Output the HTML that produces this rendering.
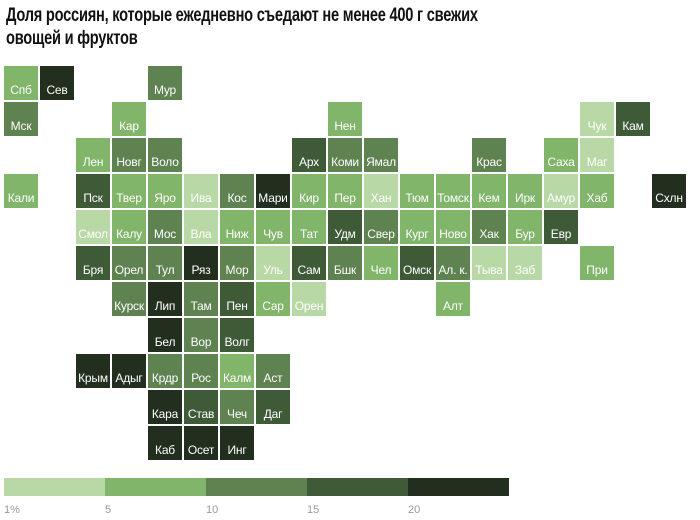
<!DOCTYPE html>
<html><head><meta charset="utf-8"><style>
body{margin:0;width:700px;height:520px;background:#fff;position:relative;overflow:hidden;font-family:"Liberation Sans","Noto Sans CJK SC",sans-serif}
h1{position:absolute;left:6px;top:4px;margin:0;font-size:19px;line-height:23px;font-weight:bold;color:#111;width:640px;letter-spacing:-0.3px;transform:scaleX(0.77);transform-origin:0 0}
.t{position:absolute;width:34px;height:34px;color:#fff;font-size:12px;text-align:center;line-height:12px;box-sizing:border-box;padding-top:18px;white-space:nowrap;letter-spacing:-0.2px}
.a{background:#b8d9a6}.b{background:#80b56a}.c{background:#5e8250}.d{background:#3e5a37}.e{background:#222e1e}
.l{position:absolute;top:478px;height:18px;width:101px}
.n{position:absolute;top:504px;font-size:11px;color:#999}
</style></head><body>
<h1>Доля россиян, которые ежедневно съедают не менее 400 г свежих овощей и фруктов</h1>
<div class="t b" style="left:4px;top:66px">Спб</div>
<div class="t e" style="left:40px;top:66px">Сев</div>
<div class="t c" style="left:148px;top:66px">Мур</div>

<div class="t c" style="left:4px;top:102px">Мск</div>
<div class="t b" style="left:112px;top:102px">Кар</div>
<div class="t b" style="left:328px;top:102px">Нен</div>
<div class="t a" style="left:580px;top:102px">Чук</div>
<div class="t d" style="left:616px;top:102px">Кам</div>

<div class="t b" style="left:76px;top:138px">Лен</div>
<div class="t c" style="left:112px;top:138px">Новг</div>
<div class="t c" style="left:148px;top:138px">Воло</div>
<div class="t d" style="left:292px;top:138px">Арх</div>
<div class="t c" style="left:328px;top:138px">Коми</div>
<div class="t c" style="left:364px;top:138px">Ямал</div>
<div class="t c" style="left:472px;top:138px">Крас</div>
<div class="t b" style="left:544px;top:138px">Саха</div>
<div class="t a" style="left:580px;top:138px">Маг</div>

<div class="t b" style="left:4px;top:174px">Кали</div>
<div class="t d" style="left:76px;top:174px">Пск</div>
<div class="t b" style="left:112px;top:174px">Твер</div>
<div class="t b" style="left:148px;top:174px">Яро</div>
<div class="t a" style="left:184px;top:174px">Ива</div>
<div class="t c" style="left:220px;top:174px">Кос</div>
<div class="t e" style="left:256px;top:174px">Мари</div>
<div class="t b" style="left:292px;top:174px">Кир</div>
<div class="t b" style="left:328px;top:174px">Пер</div>
<div class="t a" style="left:364px;top:174px">Хан</div>
<div class="t b" style="left:400px;top:174px">Тюм</div>
<div class="t b" style="left:436px;top:174px">Томск</div>
<div class="t b" style="left:472px;top:174px">Кем</div>
<div class="t b" style="left:508px;top:174px">Ирк</div>
<div class="t a" style="left:544px;top:174px">Амур</div>
<div class="t b" style="left:580px;top:174px">Хаб</div>
<div class="t e" style="left:652px;top:174px">Схлн</div>

<div class="t a" style="left:76px;top:210px">Смол</div>
<div class="t b" style="left:112px;top:210px">Калу</div>
<div class="t c" style="left:148px;top:210px">Мос</div>
<div class="t a" style="left:184px;top:210px">Вла</div>
<div class="t b" style="left:220px;top:210px">Ниж</div>
<div class="t b" style="left:256px;top:210px">Чув</div>
<div class="t b" style="left:292px;top:210px">Тат</div>
<div class="t d" style="left:328px;top:210px">Удм</div>
<div class="t c" style="left:364px;top:210px">Свер</div>
<div class="t b" style="left:400px;top:210px">Кург</div>
<div class="t b" style="left:436px;top:210px">Ново</div>
<div class="t c" style="left:472px;top:210px">Хак</div>
<div class="t b" style="left:508px;top:210px">Бур</div>
<div class="t d" style="left:544px;top:210px">Евр</div>

<div class="t d" style="left:76px;top:246px">Бря</div>
<div class="t c" style="left:112px;top:246px">Орел</div>
<div class="t c" style="left:148px;top:246px">Тул</div>
<div class="t e" style="left:184px;top:246px">Ряз</div>
<div class="t c" style="left:220px;top:246px">Мор</div>
<div class="t a" style="left:256px;top:246px">Уль</div>
<div class="t d" style="left:292px;top:246px">Сам</div>
<div class="t c" style="left:328px;top:246px">Бшк</div>
<div class="t b" style="left:364px;top:246px">Чел</div>
<div class="t d" style="left:400px;top:246px">Омск</div>
<div class="t c" style="left:436px;top:246px">Ал. к.</div>
<div class="t a" style="left:472px;top:246px">Тыва</div>
<div class="t a" style="left:508px;top:246px">Заб</div>
<div class="t b" style="left:580px;top:246px">При</div>

<div class="t c" style="left:112px;top:282px">Курск</div>
<div class="t e" style="left:148px;top:282px">Лип</div>
<div class="t c" style="left:184px;top:282px">Там</div>
<div class="t d" style="left:220px;top:282px">Пен</div>
<div class="t b" style="left:256px;top:282px">Сар</div>
<div class="t a" style="left:292px;top:282px">Орен</div>
<div class="t b" style="left:436px;top:282px">Алт</div>

<div class="t e" style="left:148px;top:318px">Бел</div>
<div class="t c" style="left:184px;top:318px">Вор</div>
<div class="t d" style="left:220px;top:318px">Волг</div>

<div class="t e" style="left:76px;top:354px">Крым</div>
<div class="t e" style="left:112px;top:354px">Адыг</div>
<div class="t c" style="left:148px;top:354px">Крдр</div>
<div class="t c" style="left:184px;top:354px">Рос</div>
<div class="t b" style="left:220px;top:354px">Калм</div>
<div class="t c" style="left:256px;top:354px">Аст</div>

<div class="t e" style="left:148px;top:390px">Кара</div>
<div class="t d" style="left:184px;top:390px">Став</div>
<div class="t c" style="left:220px;top:390px">Чеч</div>
<div class="t d" style="left:256px;top:390px">Даг</div>

<div class="t e" style="left:148px;top:426px">Каб</div>
<div class="t e" style="left:184px;top:426px">Осет</div>
<div class="t e" style="left:220px;top:426px">Инг</div>

<div class="l a" style="left:4px"></div>
<div class="l b" style="left:105px"></div>
<div class="l c" style="left:206px"></div>
<div class="l d" style="left:307px"></div>
<div class="l e" style="left:408px"></div>
<div class="n" style="left:4px">1%</div>
<div class="n" style="left:105px">5</div>
<div class="n" style="left:206px">10</div>
<div class="n" style="left:307px">15</div>
<div class="n" style="left:408px">20</div>
</body></html>
